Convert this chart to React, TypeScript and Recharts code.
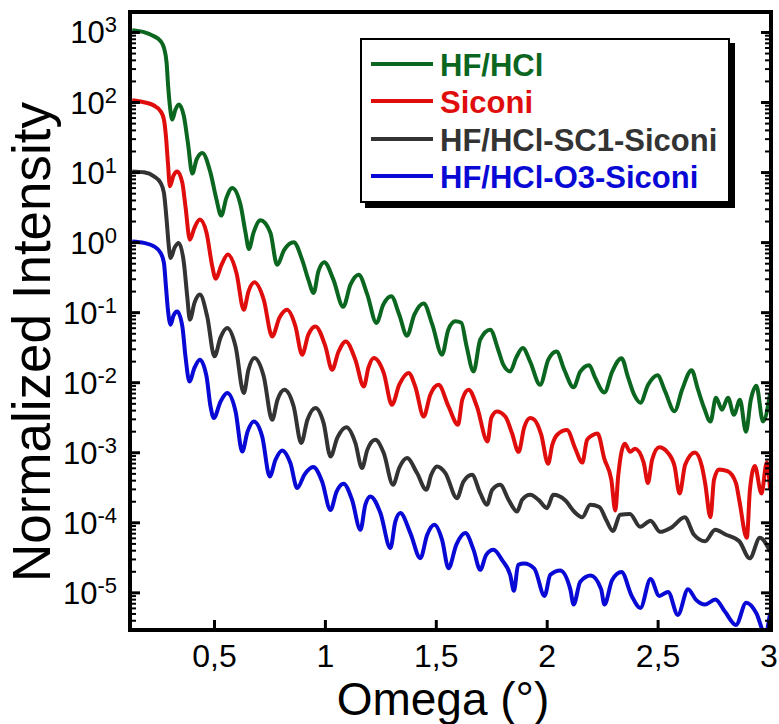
import { LineChart, Line, XAxis, YAxis, Legend } from "recharts"

// values (omega in degrees, normalized intensity)
const hfhclOmega = [0.129, 0.182, 0.227, 0.257, 0.272, 0.284, 0.291, 0.299, 0.309, 0.324, 0.339, 0.362, 0.380, 0.400, 0.419, 0.445, 0.482, 0.509, 0.530, 0.554, 0.580, 0.617, 0.640, 0.655, 0.676, 0.707, 0.752, 0.782, 0.815, 0.857, 0.895, 0.923, 0.947, 0.968, 0.995, 1.036, 1.080, 1.113, 1.150, 1.189, 1.230, 1.261, 1.297, 1.333, 1.368, 1.401, 1.443, 1.482, 1.526, 1.554, 1.586, 1.613, 1.635, 1.668, 1.698, 1.743, 1.779, 1.802, 1.833, 1.860, 1.890, 1.923, 1.968, 2.005, 2.042, 2.077, 2.119, 2.149, 2.189, 2.216, 2.258, 2.293, 2.335, 2.365, 2.392, 2.420, 2.455, 2.497, 2.532, 2.574, 2.608, 2.651, 2.680, 2.707, 2.736, 2.761, 2.788, 2.815, 2.842, 2.869, 2.896, 2.918, 2.943, 2.973, 3.005]
const hfhclIntensity = [1080, 1010, 885, 752, 604, 369, 171, 88.5, 57.1, 79.4, 93.6, 63.7, 26.6, 9.68, 15.3, 19.1, 9.91, 4.11, 2.43, 4.39, 6.04, 3.49, 1.38, 0.813, 1.39, 2.08, 1.38, 0.485, 0.794, 1.01, 0.571, 0.296, 0.191, 0.385, 0.524, 0.296, 0.121, 0.251, 0.349, 0.181, 0.0713, 0.13, 0.171, 0.0936, 0.0469, 0.0936, 0.135, 0.0674, 0.0251, 0.0572, 0.0752, 0.0719, 0.0349, 0.0145, 0.0411, 0.0572, 0.0296, 0.0181, 0.0145, 0.0228, 0.0313, 0.02, 0.00936, 0.0213, 0.028, 0.0153, 0.00859, 0.0144, 0.0178, 0.0118, 0.00726, 0.0144, 0.0224, 0.0118, 0.00674, 0.00518, 0.00936, 0.0128, 0.00744, 0.00392, 0.00794, 0.0151, 0.00794, 0.0044, 0.00279, 0.00611, 0.00411, 0.00611, 0.00349, 0.00571, 0.002, 0.00571, 0.00906, 0.00279, 0.00697]

const siconiOmega = [0.129, 0.182, 0.227, 0.257, 0.272, 0.281, 0.290, 0.299, 0.315, 0.332, 0.355, 0.369, 0.389, 0.410, 0.434, 0.464, 0.490, 0.505, 0.532, 0.560, 0.599, 0.632, 0.653, 0.680, 0.722, 0.760, 0.793, 0.827, 0.865, 0.895, 0.923, 0.955, 1.000, 1.030, 1.059, 1.092, 1.135, 1.173, 1.194, 1.218, 1.263, 1.300, 1.333, 1.375, 1.405, 1.443, 1.473, 1.510, 1.555, 1.598, 1.617, 1.646, 1.683, 1.731, 1.748, 1.773, 1.811, 1.841, 1.871, 1.896, 1.923, 1.942, 1.973, 2.004, 2.023, 2.045, 2.089, 2.127, 2.158, 2.180, 2.204, 2.227, 2.258, 2.289, 2.307, 2.320, 2.350, 2.374, 2.396, 2.435, 2.454, 2.473, 2.505, 2.543, 2.574, 2.597, 2.622, 2.666, 2.697, 2.712, 2.736, 2.752, 2.774, 2.813, 2.851, 2.866, 2.900, 2.914, 2.936, 2.966, 2.990, 3.005]
const siconiIntensity = [108, 101, 90.6, 75.2, 57.1, 33, 13.8, 6.37, 9.06, 10.4, 7.13, 3.3, 1.1, 1.64, 2.13, 1.38, 0.458, 0.306, 0.485, 0.675, 0.369, 0.11, 0.2, 0.271, 0.153, 0.0458, 0.0849, 0.11, 0.0637, 0.0251, 0.0485, 0.0637, 0.033, 0.0153, 0.0277, 0.0389, 0.0213, 0.00885, 0.0164, 0.0225, 0.0138, 0.00485, 0.00936, 0.0138, 0.00885, 0.0033, 0.00674, 0.00936, 0.00458, 0.00251, 0.00571, 0.00794, 0.00458, 0.00145, 0.00316, 0.00389, 0.0033, 0.00191, 0.00103, 0.00228, 0.00313, 0.00296, 0.00181, 0.000697, 0.0013, 0.00181, 0.00211, 0.00114, 0.000724, 0.00153, 0.00178, 0.00188, 0.000811, 0.000413, 0.00015, 0.000461, 0.00135, 0.00103, 0.00114, 0.000724, 0.000369, 0.000794, 0.0012, 0.00101, 0.000647, 0.000263, 0.000674, 0.00101, 0.000647, 0.000369, 0.00012, 0.000411, 0.000577, 0.000546, 0.000369, 0.00021, 0.0000611, 0.000296, 0.000647, 0.000263, 0.000724, 0.000296]

const sc1Omega = [0.129, 0.182, 0.227, 0.257, 0.272, 0.284, 0.294, 0.302, 0.320, 0.339, 0.362, 0.377, 0.389, 0.410, 0.434, 0.467, 0.500, 0.527, 0.557, 0.595, 0.632, 0.653, 0.680, 0.722, 0.760, 0.784, 0.815, 0.857, 0.891, 0.919, 0.955, 0.992, 1.023, 1.054, 1.095, 1.135, 1.165, 1.189, 1.225, 1.263, 1.305, 1.333, 1.368, 1.413, 1.455, 1.477, 1.503, 1.541, 1.593, 1.622, 1.661, 1.698, 1.728, 1.752, 1.788, 1.826, 1.864, 1.887, 1.923, 1.961, 1.999, 2.027, 2.081, 2.122, 2.158, 2.194, 2.235, 2.266, 2.296, 2.329, 2.373, 2.419, 2.466, 2.509, 2.559, 2.620, 2.662, 2.712, 2.757, 2.804, 2.866, 2.913, 2.959, 3.005]
const sc1Intensity = [10.4, 10.1, 8.85, 7.13, 5.13, 2.13, 0.885, 0.604, 0.849, 0.991, 0.513, 0.171, 0.0794, 0.139, 0.181, 0.0885, 0.0238, 0.044, 0.0604, 0.033, 0.00713, 0.0153, 0.0225, 0.0123, 0.00296, 0.00571, 0.00794, 0.00458, 0.00138, 0.00296, 0.00436, 0.00265, 0.000885, 0.00164, 0.00231, 0.00138, 0.000604, 0.0011, 0.00153, 0.00099, 0.000349, 0.000611, 0.000839, 0.000513, 0.000296, 0.000485, 0.000638, 0.000513, 0.000225, 0.000385, 0.000485, 0.000265, 0.000181, 0.000296, 0.000349, 0.000213, 0.000145, 0.000213, 0.000251, 0.000213, 0.000162, 0.000251, 0.00021, 0.000144, 0.00012, 0.000181, 0.000168, 0.00011, 0.0000764, 0.00013, 0.000134, 0.0000877, 0.000107, 0.0000743, 0.0000853, 0.00012, 0.0000674, 0.0000545, 0.0000794, 0.0000682, 0.0000545, 0.0000311, 0.0000611, 0.0000389]

const o3Omega = [0.129, 0.182, 0.227, 0.257, 0.272, 0.281, 0.290, 0.302, 0.315, 0.332, 0.355, 0.369, 0.387, 0.410, 0.434, 0.464, 0.482, 0.497, 0.527, 0.557, 0.595, 0.625, 0.649, 0.677, 0.715, 0.749, 0.775, 0.805, 0.842, 0.873, 0.905, 0.945, 0.985, 1.023, 1.050, 1.082, 1.120, 1.158, 1.180, 1.203, 1.248, 1.293, 1.315, 1.338, 1.383, 1.428, 1.459, 1.491, 1.526, 1.555, 1.590, 1.631, 1.668, 1.698, 1.725, 1.758, 1.796, 1.833, 1.850, 1.869, 1.896, 1.942, 1.988, 2.014, 2.058, 2.104, 2.119, 2.149, 2.196, 2.243, 2.258, 2.293, 2.335, 2.381, 2.420, 2.466, 2.505, 2.545, 2.589, 2.635, 2.671, 2.712, 2.758, 2.802, 2.851, 2.897, 2.943, 2.982, 3.005]
const o3Intensity = [1.04, 0.991, 0.885, 0.713, 0.513, 0.238, 0.11, 0.0674, 0.0906, 0.104, 0.0637, 0.0238, 0.0104, 0.0164, 0.0213, 0.0123, 0.00458, 0.00313, 0.00536, 0.00713, 0.00389, 0.00104, 0.002, 0.0028, 0.00171, 0.000458, 0.000794, 0.00108, 0.000713, 0.000313, 0.000485, 0.000625, 0.000389, 0.000153, 0.000277, 0.000361, 0.000213, 0.0000794, 0.000181, 0.000238, 0.000138, 0.0000436, 0.000103, 0.000138, 0.0000713, 0.0000313, 0.0000674, 0.0000936, 0.0000571, 0.0000225, 0.0000485, 0.0000713, 0.0000411, 0.0000213, 0.0000349, 0.0000411, 0.0000296, 0.0000181, 0.0000107, 0.0000251, 0.0000262, 0.0000222, 0.00000904, 0.0000181, 0.0000209, 0.0000113, 0.00000681, 0.0000144, 0.0000177, 0.0000113, 0.00000681, 0.0000153, 0.0000198, 0.00000904, 0.00000608, 0.0000158, 0.00000904, 0.0000103, 0.00000485, 0.0000113, 0.00000794, 0.00000681, 0.00000805, 0.00000536, 0.00000347, 0.0000072, 0.00000513, 0.00000261, 0.00000513]

const seriesNames = ["HF/HCl", "Siconi", "HF/HCl-SC1-Siconi", "HF/HCl-O3-Siconi"]
const seriesColors = ["#0b661f", "#e00d0d", "#333333", "#0909d6"]

const xTicks = [0.5, 1, 1.5, 2, 2.5, 3]
const yMajorTicks = [1e-5, 1e-4, 1e-3, 1e-2, 1e-1, 1, 10, 100, 1000]

const X_MIN = 0.119
const X_MAX = 3.009
const Y_MIN = 2.95e-6
const Y_MAX = 1960

const yTicks: number[] = [...yMajorTicks]
for (let k = -6; k <= 2; k++) {
  for (let m = 2; m <= 9; m++) {
    const v = m * Math.pow(10, k)
    if (v > Y_MIN && v < Y_MAX) yTicks.push(v)
  }
}
yTicks.sort((a, b) => a - b)

const FONT = "'Liberation Sans', Arial, Helvetica, sans-serif"

const zip = (xs: number[], ys: number[]) =>
  xs.map((omega, i) => ({ omega, i: ys[i] }))

const seriesData = [
  zip(hfhclOmega, hfhclIntensity),
  zip(siconiOmega, siconiIntensity),
  zip(sc1Omega, sc1Intensity),
  zip(o3Omega, o3Intensity),
]

const isMajor = (v: number) => {
  const l = Math.log10(v)
  return Math.abs(l - Math.round(l)) < 1e-6
}

const LeftTick = (p: any) => {
  const { x, y, payload } = p
  const v = payload.value
  const major = isMajor(v)
  return (
    <g>
      <line x1={x} x2={x + (major ? 10 : 6)} y1={y} y2={y} stroke="#000" strokeWidth={major ? 3 : 2} />
      {major && (
        <text x={x - 13} y={y + 11} textAnchor="end" fontSize={31} fontFamily={FONT} fill="#000">
          10
          <tspan dy={-11} fontSize={22}>{Math.round(Math.log10(v))}</tspan>
        </text>
      )}
    </g>
  )
}

const RightTick = (p: any) => {
  const { x, y, payload } = p
  const major = isMajor(payload.value)
  return <line x1={x} x2={x - (major ? 10 : 6)} y1={y} y2={y} stroke="#000" strokeWidth={major ? 3 : 2} />
}

const BottomTick = (p: any) => {
  const { x, y, payload } = p
  return (
    <g>
      <line x1={x} x2={x} y1={y} y2={y - 10} stroke="#000" strokeWidth={3} />
      <text x={x} y={y + 37} textAnchor="middle" fontSize={32} fontFamily={FONT} fill="#000">
        {String(payload.value).replace(".", ",")}
      </text>
    </g>
  )
}

const TopTick = (p: any) => {
  const { x, y } = p
  return <line x1={x} x2={x} y1={y} y2={y + 10} stroke="#000" strokeWidth={3} />
}

const frameLine = { stroke: "#000", strokeWidth: 4, strokeLinecap: "square" as const }

const LegendBox = () => (
  <div
    style={{
      position: "relative",
      width: 370,
      height: 165,
      boxSizing: "border-box",
      border: "2px solid #000",
      background: "#fff",
      boxShadow: "5px 5px 0 #000",
      fontFamily: FONT,
    }}
  >
    {seriesNames.map((name, idx) => {
      const cy = 24 + idx * 37.3
      return (
        <div key={name}>
          <div
            style={{
              position: "absolute",
              left: 9,
              top: cy - 2,
              width: 62,
              height: 4,
              background: seriesColors[idx],
            }}
          />
          <div
            style={{
              position: "absolute",
              left: 78,
              top: cy + 2 - 18,
              height: 36,
              lineHeight: "36px",
              fontSize: 31,
              fontWeight: "bold",
              color: seriesColors[idx],
              whiteSpace: "nowrap",
            }}
          >
            {name}
          </div>
        </div>
      )
    })}
  </div>
)

export default function App() {
  return (
    <div style={{ position: "absolute", left: 0, top: 0, width: 779, height: 724, background: "#fff" }}>
      <LineChart width={779} height={724} margin={{ top: 0, right: 0, bottom: 0, left: 0 }}>
        <XAxis
          xAxisId="b"
          dataKey="omega"
          type="number"
          domain={[X_MIN, X_MAX]}
          allowDataOverflow
          ticks={xTicks}
          interval={0}
          tickSize={0}
          tickMargin={0}
          height={94}
          tick={BottomTick}
          tickLine={false}
          axisLine={frameLine}
          label={{
            content: () => (
              <text x={443} y={715} textAnchor="middle" fontSize={46} fontFamily={FONT} fill="#000">
                Omega (°)
              </text>
            ),
          }}
        />
        <XAxis
          xAxisId="t"
          orientation="top"
          type="number"
          domain={[X_MIN, X_MAX]}
          allowDataOverflow
          ticks={xTicks}
          interval={0}
          tickSize={0}
          tickMargin={0}
          height={12}
          tick={TopTick}
          tickLine={false}
          axisLine={frameLine}
        />
        <YAxis
          yAxisId="l"
          type="number"
          scale="log"
          domain={[Y_MIN, Y_MAX]}
          allowDataOverflow
          ticks={yTicks}
          interval={0}
          tickSize={0}
          tickMargin={0}
          width={130}
          tick={LeftTick}
          tickLine={false}
          axisLine={frameLine}
          label={{
            content: () => (
              <text
                x={50}
                y={342}
                transform="rotate(-90, 50, 342)"
                textAnchor="middle"
                fontSize={53}
                fontFamily={FONT}
                fill="#000"
              >
                Normalized Intensity
              </text>
            ),
          }}
        />
        <YAxis
          yAxisId="r"
          orientation="right"
          type="number"
          scale="log"
          domain={[Y_MIN, Y_MAX]}
          allowDataOverflow
          ticks={yTicks}
          interval={0}
          tickSize={0}
          tickMargin={0}
          width={8}
          tick={RightTick}
          tickLine={false}
          axisLine={frameLine}
        />
        {seriesData.map((d, idx) => (
          <Line
            key={seriesNames[idx]}
            data={d}
            dataKey="i"
            name={seriesNames[idx]}
            xAxisId="b"
            yAxisId="l"
            type="monotone"
            stroke={seriesColors[idx]}
            strokeWidth={4}
            dot={false}
            isAnimationActive={false}
          />
        ))}
        <Legend
          layout="vertical"
          align="center"
          verticalAlign="middle"
          wrapperStyle={{ left: 360, top: 38, width: 370, height: 165 }}
          content={() => <LegendBox />}
        />
      </LineChart>
    </div>
  )
}
